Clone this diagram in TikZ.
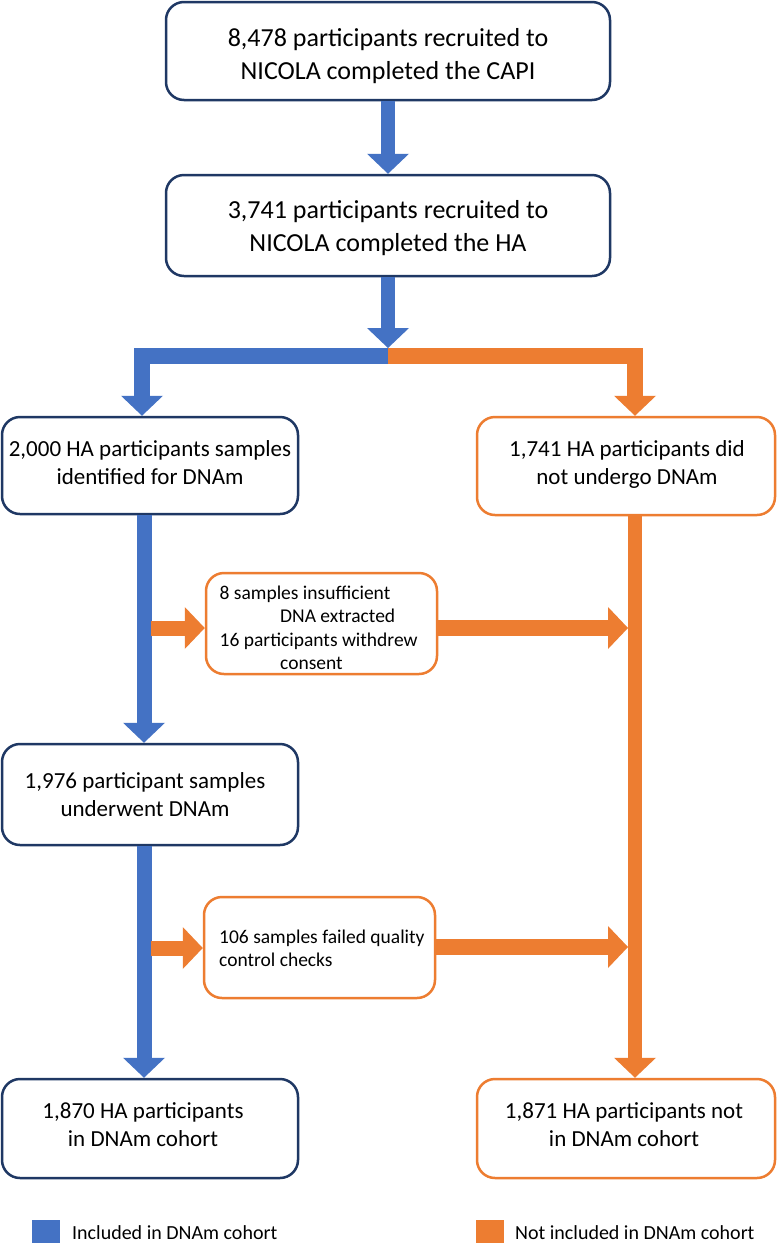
\documentclass[tikz,border=0pt]{standalone}
\usepackage{fontspec}
\setmainfont{Carlito}
\usetikzlibrary{arrows.meta,calc}
\definecolor{cblue}{HTML}{4472C4}
\definecolor{corange}{HTML}{ED7D31}
\definecolor{cnavy}{HTML}{1F3864}
\tikzset{
  nbox/.style={draw=cnavy, line width=2.5pt, rounded corners=18pt, fill=white, inner sep=0pt},
  obox/.style={draw=corange, line width=2.5pt, rounded corners=18pt, fill=white, inner sep=0pt},
  bigtxt/.style={font=\fontsize{26pt}{33pt}\selectfont, align=center, inner sep=0pt},
  midtxt/.style={font=\fontsize{23pt}{28pt}\selectfont, align=center, inner sep=0pt},
  smalltxt/.style={font=\fontsize{19.5pt}{23.5pt}\selectfont, align=left, inner sep=0pt, anchor=west},
  legtxt/.style={font=\fontsize{20pt}{24pt}\selectfont, inner sep=0pt, anchor=base west},
  bigtip/.tip={Triangle[width=42pt,length=20pt,line width=0pt]},
  barrow/.style={draw=cblue, line width=15pt, -bigtip},
  oarrow/.style={draw=corange, line width=15pt, -bigtip},
  bsplit/.style={draw=cblue, line width=16pt, line join=miter, -bigtip},
  osplit/.style={draw=corange, line width=16pt, line join=miter, -bigtip},
  legsq/.style={inner sep=0pt, minimum size=28pt},
}
\begin{document}
\begin{tikzpicture}[x=1pt,y=-1pt]
\useasboundingbox (0,0) rectangle (777,1243);
\fill[white] (0,0) rectangle (777,1243);

% boxes
\node[nbox, minimum width=444pt, minimum height=98pt] (b1) at (388,51) {};
\node[nbox, minimum width=444pt, minimum height=101pt] (b2) at (388,225.5) {};
\node[nbox, minimum width=296pt, minimum height=97pt] (b3) at (150,465.5) {};
\node[obox, minimum width=298pt, minimum height=98pt] (b4) at (626,466) {};
\node[obox, minimum width=231pt, minimum height=101pt] (ba) at (321.5,623.5) {};
\node[nbox, minimum width=296pt, minimum height=101pt] (b5) at (150,794.5) {};
\node[obox, minimum width=231pt, minimum height=101pt] (bb) at (319.5,947.5) {};
\node[nbox, minimum width=296pt, minimum height=99pt] (b6) at (150,1128.5) {};
\node[obox, minimum width=298pt, minimum height=99pt] (b7) at (626,1128.5) {};

% texts
\node[bigtxt] (t1) at (388,56) {8,478 participants recruited to\\NICOLA completed the CAPI};
\node[bigtxt] (t2) at (388,228.5) {3,741 participants recruited to\\NICOLA completed the HA};
\node[midtxt] (t3) at (150,463) {2,000 HA participants samples\\identified for DNAm};
\node[midtxt] (t4) at (627,464.5) {1,741 HA participants did\\not undergo DNAm};
\node[smalltxt] (ta) at (219.5,628) {8 samples insufficient\\\hspace*{60.5pt}DNA extracted\\16 participants withdrew\\\hspace*{60.5pt}consent};
\node[midtxt] (t5) at (145,795) {1,976 participant samples\\underwent DNAm};
\node[smalltxt] (tb) at (219,948.5) {106 samples failed quality\\control checks};
\node[midtxt] (t6) at (143,1125) {1,870 HA participants\\in DNAm cohort};
\node[midtxt] (t7) at (624,1125) {1,871 HA participants not\\in DNAm cohort};

% column coordinates
\coordinate (split) at (388,356);
\coordinate (lcol) at (142,0);
\coordinate (rcol) at (635,0);
\coordinate (bcol) at (144,0);
\coordinate (ocol) at (635,0);
\coordinate (ain) at (151,628);
\coordinate (aout) at (628,628);
\coordinate (bin) at (151,948);
\coordinate (bout) at (628,947);

% connectors
\draw[barrow, line width=14pt] (b1.south) -- (b2.north);
\draw[barrow, line width=14pt] (b2.south) -- ([yshift=8pt]split);
\draw[bsplit] (split) -- (split -| lcol) -- (b3.north -| lcol);
\draw[osplit] (split) -- (split -| rcol) -- (b4.north -| rcol);
\draw[barrow] (b3.south -| bcol) -- (b5.north -| bcol);
\draw[barrow] (b5.south -| bcol) -- (b6.north -| bcol);
\draw[oarrow, line width=14pt] (b4.south -| ocol) -- (b7.north -| ocol);
\draw[oarrow] (ain) -- (ain -| ba.west);
\draw[oarrow, line width=16pt] (ba.east |- aout) -- (aout);
\draw[oarrow] (bin) -- (bin -| bb.west);
\draw[oarrow, line width=16pt] (bb.east |- bout) -- (bout);

% legend
\node[legsq, fill=cblue] (lb) at (46,1234) {};
\node[legtxt] (lbt) at (72,1239) {Included in DNAm cohort};
\node[legsq, fill=corange] (lo) at (489.5,1234) {};
\node[legtxt] (lot) at (515,1239) {Not included in DNAm cohort};
\end{tikzpicture}
\end{document}
